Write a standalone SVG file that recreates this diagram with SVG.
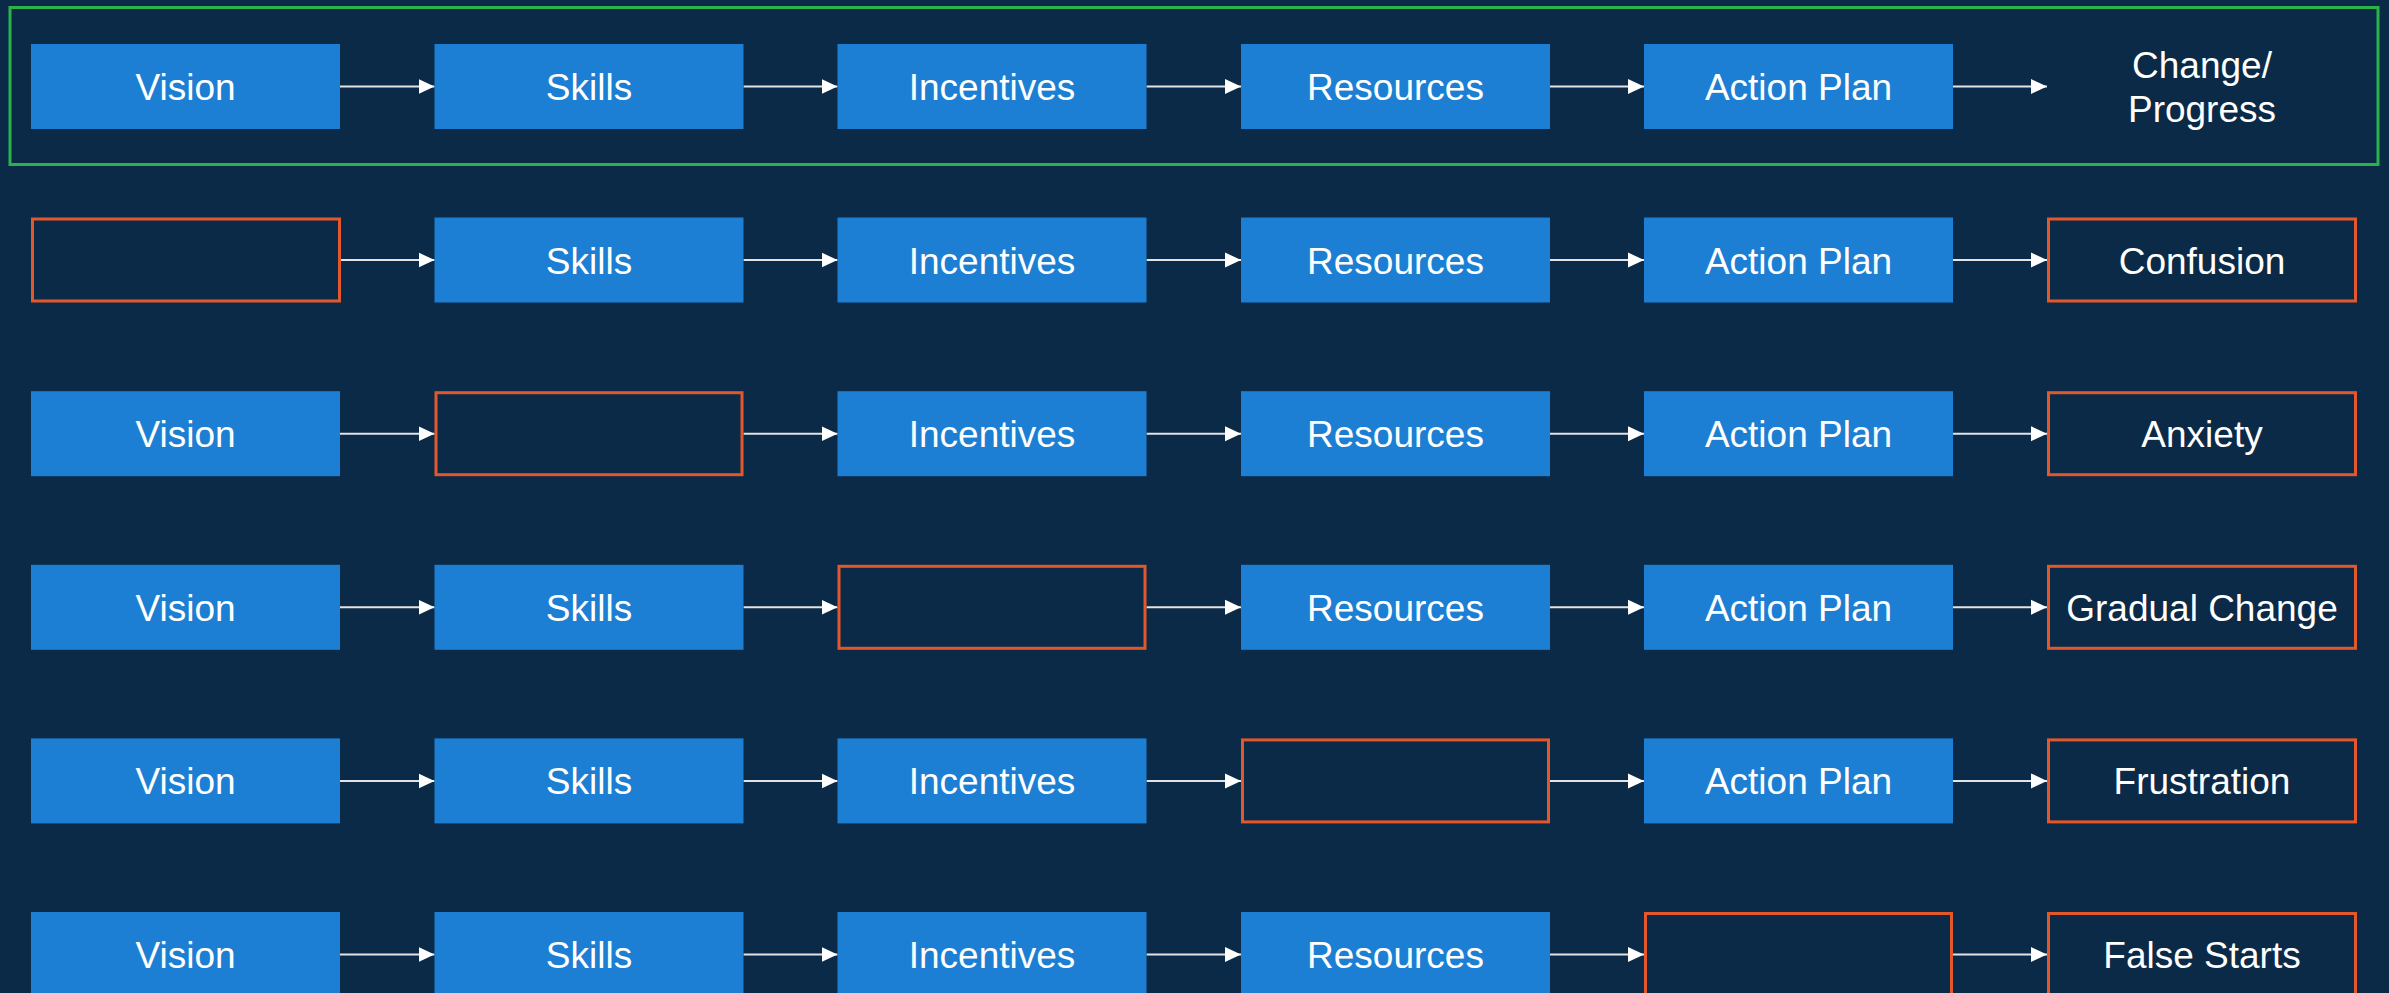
<svg xmlns="http://www.w3.org/2000/svg" width="2389" height="993" viewBox="0 0 2389 993">
<defs>
<marker id="ah" viewBox="0 0 16 16" refX="16" refY="8" markerWidth="16" markerHeight="16" markerUnits="userSpaceOnUse" orient="auto">
<path d="M0,0.5 L16,8 L0,15.5 Z" fill="#ffffff"/>
</marker>
<style>
.blue{fill:#1d7fd3;}
.empty{fill:none;stroke:#e2582a;stroke-width:3;}
.t{font-family:"Liberation Sans",Arial,sans-serif;font-size:37px;fill:#ffffff;text-anchor:middle;}
.c{stroke:#e3e3e3;stroke-width:2;fill:none;marker-end:url(#ah);}
</style>
</defs>
<rect x="0" y="0" width="2389" height="993" fill="#0b2a48"/>
<rect id="frame" x="10" y="7.5" width="2368" height="157" fill="none" stroke="#2bb34a" stroke-width="3"/>

<g id="connectors">
<line class="c" x1="340" y1="86.5" x2="434.5" y2="86.5"/>
<line class="c" x1="743.5" y1="86.5" x2="837.5" y2="86.5"/>
<line class="c" x1="1146.5" y1="86.5" x2="1241" y2="86.5"/>
<line class="c" x1="1550" y1="86.5" x2="1644" y2="86.5"/>
<line class="c" x1="1953" y1="86.5" x2="2047" y2="86.5"/>

<line class="c" x1="341" y1="260" x2="434.5" y2="260"/>
<line class="c" x1="743.5" y1="260" x2="837.5" y2="260"/>
<line class="c" x1="1146.5" y1="260" x2="1241" y2="260"/>
<line class="c" x1="1550" y1="260" x2="1644" y2="260"/>
<line class="c" x1="1953" y1="260" x2="2047" y2="260"/>

<line class="c" x1="340" y1="433.7" x2="434.5" y2="433.7"/>
<line class="c" x1="743.5" y1="433.7" x2="837.5" y2="433.7"/>
<line class="c" x1="1146.5" y1="433.7" x2="1241" y2="433.7"/>
<line class="c" x1="1550" y1="433.7" x2="1644" y2="433.7"/>
<line class="c" x1="1953" y1="433.7" x2="2047" y2="433.7"/>

<line class="c" x1="340" y1="607.3" x2="434.5" y2="607.3"/>
<line class="c" x1="743.5" y1="607.3" x2="837.5" y2="607.3"/>
<line class="c" x1="1146.5" y1="607.3" x2="1241" y2="607.3"/>
<line class="c" x1="1550" y1="607.3" x2="1644" y2="607.3"/>
<line class="c" x1="1953" y1="607.3" x2="2047" y2="607.3"/>

<line class="c" x1="340" y1="780.9" x2="434.5" y2="780.9"/>
<line class="c" x1="743.5" y1="780.9" x2="837.5" y2="780.9"/>
<line class="c" x1="1146.5" y1="780.9" x2="1241" y2="780.9"/>
<line class="c" x1="1550" y1="780.9" x2="1644" y2="780.9"/>
<line class="c" x1="1953" y1="780.9" x2="2047" y2="780.9"/>

<line class="c" x1="340" y1="954.5" x2="434.5" y2="954.5"/>
<line class="c" x1="743.5" y1="954.5" x2="837.5" y2="954.5"/>
<line class="c" x1="1146.5" y1="954.5" x2="1241" y2="954.5"/>
<line class="c" x1="1550" y1="954.5" x2="1644" y2="954.5"/>
<line class="c" x1="1953" y1="954.5" x2="2047" y2="954.5"/>
</g>

<!-- Row 1 -->
<g id="r1-vision"><rect class="blue" x="31" y="44" width="309" height="85"/><text class="t" x="185.5" y="100">Vision</text></g>
<g id="r1-skills"><rect class="blue" x="434.5" y="44" width="309" height="85"/><text class="t" x="589" y="100">Skills</text></g>
<g id="r1-incentives"><rect class="blue" x="837.5" y="44" width="309" height="85"/><text class="t" x="992" y="100">Incentives</text></g>
<g id="r1-resources"><rect class="blue" x="1241" y="44" width="309" height="85"/><text class="t" x="1395.5" y="100">Resources</text></g>
<g id="r1-action"><rect class="blue" x="1644" y="44" width="309" height="85"/><text class="t" x="1798.5" y="100">Action Plan</text></g>
<g id="r1-outcome"><text class="t" x="2202" y="78">Change/</text><text class="t" x="2202" y="122">Progress</text></g>

<!-- Row 2 -->
<g id="r2-vision"><rect class="empty" x="32.5" y="219" width="307" height="82"/></g>
<g id="r2-skills"><rect class="blue" x="434.5" y="217.5" width="309" height="85"/><text class="t" x="589" y="273.5">Skills</text></g>
<g id="r2-incentives"><rect class="blue" x="837.5" y="217.5" width="309" height="85"/><text class="t" x="992" y="273.5">Incentives</text></g>
<g id="r2-resources"><rect class="blue" x="1241" y="217.5" width="309" height="85"/><text class="t" x="1395.5" y="273.5">Resources</text></g>
<g id="r2-action"><rect class="blue" x="1644" y="217.5" width="309" height="85"/><text class="t" x="1798.5" y="273.5">Action Plan</text></g>
<g id="r2-outcome"><rect class="empty" x="2048.5" y="219" width="307" height="82"/><text class="t" x="2202" y="273.5">Confusion</text></g>

<!-- Row 3 -->
<g id="r3-vision"><rect class="blue" x="31" y="391.2" width="309" height="85"/><text class="t" x="185.5" y="447.2">Vision</text></g>
<g id="r3-skills"><rect class="empty" x="436" y="392.7" width="306" height="82"/></g>
<g id="r3-incentives"><rect class="blue" x="837.5" y="391.2" width="309" height="85"/><text class="t" x="992" y="447.2">Incentives</text></g>
<g id="r3-resources"><rect class="blue" x="1241" y="391.2" width="309" height="85"/><text class="t" x="1395.5" y="447.2">Resources</text></g>
<g id="r3-action"><rect class="blue" x="1644" y="391.2" width="309" height="85"/><text class="t" x="1798.5" y="447.2">Action Plan</text></g>
<g id="r3-outcome"><rect class="empty" x="2048.5" y="392.7" width="307" height="82"/><text class="t" x="2202" y="447.2">Anxiety</text></g>

<!-- Row 4 -->
<g id="r4-vision"><rect class="blue" x="31" y="564.8" width="309" height="85"/><text class="t" x="185.5" y="620.8">Vision</text></g>
<g id="r4-skills"><rect class="blue" x="434.5" y="564.8" width="309" height="85"/><text class="t" x="589" y="620.8">Skills</text></g>
<g id="r4-incentives"><rect class="empty" x="839" y="566.3" width="306" height="82"/></g>
<g id="r4-resources"><rect class="blue" x="1241" y="564.8" width="309" height="85"/><text class="t" x="1395.5" y="620.8">Resources</text></g>
<g id="r4-action"><rect class="blue" x="1644" y="564.8" width="309" height="85"/><text class="t" x="1798.5" y="620.8">Action Plan</text></g>
<g id="r4-outcome"><rect class="empty" x="2048.5" y="566.3" width="307" height="82"/><text class="t" x="2202" y="620.8">Gradual Change</text></g>

<!-- Row 5 -->
<g id="r5-vision"><rect class="blue" x="31" y="738.4" width="309" height="85"/><text class="t" x="185.5" y="794.4">Vision</text></g>
<g id="r5-skills"><rect class="blue" x="434.5" y="738.4" width="309" height="85"/><text class="t" x="589" y="794.4">Skills</text></g>
<g id="r5-incentives"><rect class="blue" x="837.5" y="738.4" width="309" height="85"/><text class="t" x="992" y="794.4">Incentives</text></g>
<g id="r5-resources"><rect class="empty" x="1242.5" y="739.9" width="306" height="82"/></g>
<g id="r5-action"><rect class="blue" x="1644" y="738.4" width="309" height="85"/><text class="t" x="1798.5" y="794.4">Action Plan</text></g>
<g id="r5-outcome"><rect class="empty" x="2048.5" y="739.9" width="307" height="82"/><text class="t" x="2202" y="794.4">Frustration</text></g>

<!-- Row 6 -->
<g id="r6-vision"><rect class="blue" x="31" y="912" width="309" height="85"/><text class="t" x="185.5" y="968">Vision</text></g>
<g id="r6-skills"><rect class="blue" x="434.5" y="912" width="309" height="85"/><text class="t" x="589" y="968">Skills</text></g>
<g id="r6-incentives"><rect class="blue" x="837.5" y="912" width="309" height="85"/><text class="t" x="992" y="968">Incentives</text></g>
<g id="r6-resources"><rect class="blue" x="1241" y="912" width="309" height="85"/><text class="t" x="1395.5" y="968">Resources</text></g>
<g id="r6-action"><rect class="empty" x="1645.5" y="913.5" width="306" height="82"/></g>
<g id="r6-outcome"><rect class="empty" x="2048.5" y="913.5" width="307" height="82"/><text class="t" x="2202" y="968">False Starts</text></g>
</svg>
